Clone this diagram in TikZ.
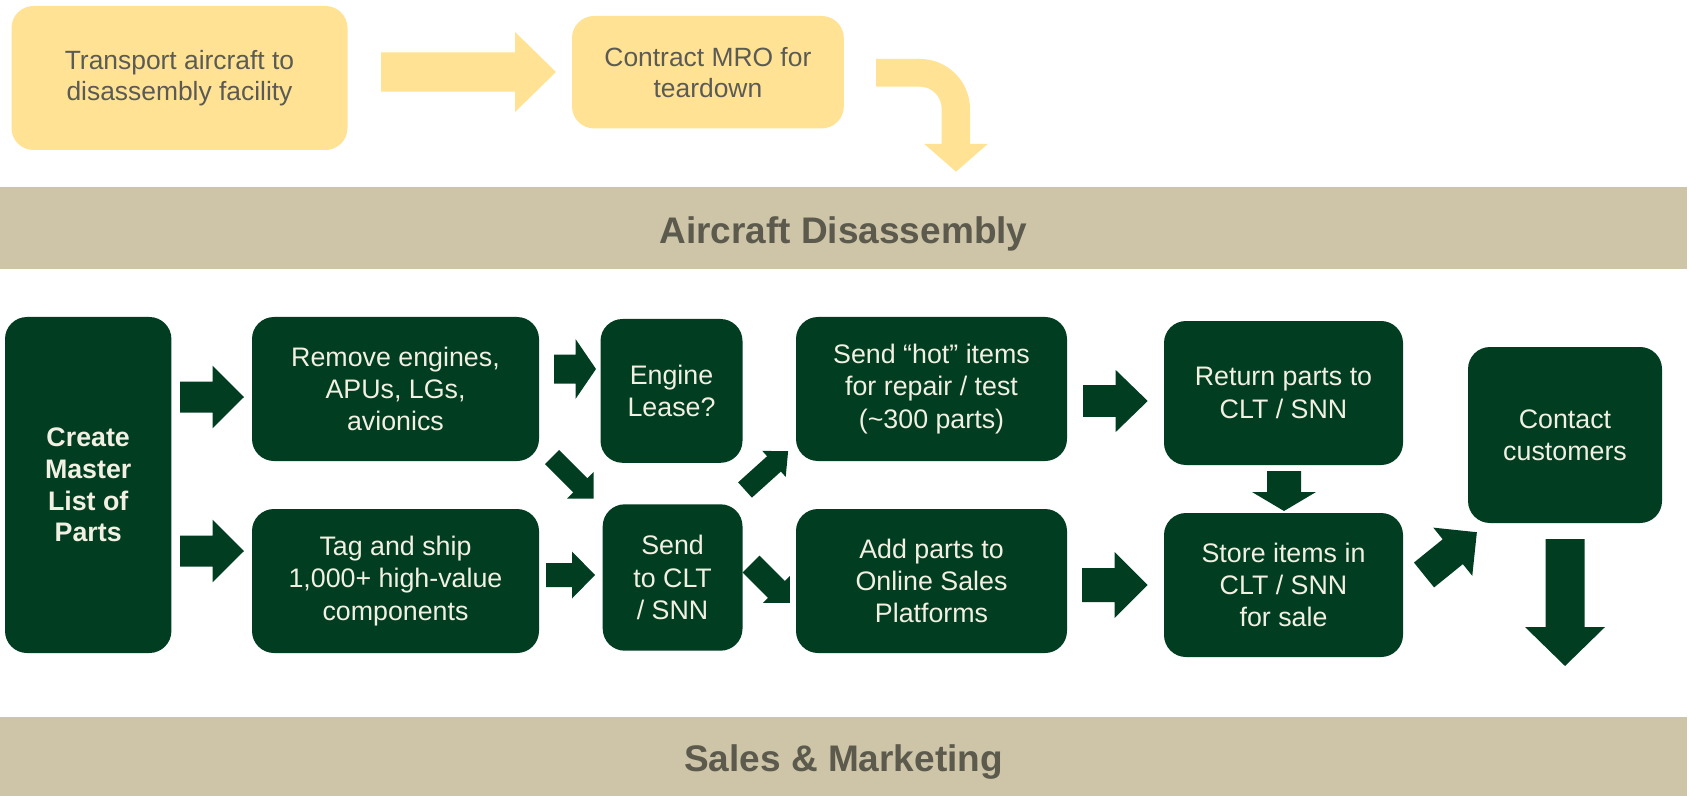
\documentclass[tikz,border=0pt]{standalone}
\usepackage{fontspec}
\setmainfont{Liberation Sans}
\definecolor{ygold}{HTML}{FFE293}
\definecolor{ytext}{HTML}{5B5B55}
\definecolor{dgreen}{HTML}{013D21}
\definecolor{gtext}{HTML}{F2F0E2}
\definecolor{bandc}{HTML}{CEC5A8}
\definecolor{btext}{HTML}{5C5A4C}
\newcommand\blockarrow[7]{% color, tail, angle, length, shaft half, head half, head length
  \fill[#1, shift={(#2)}, rotate=#3] (0,#5) -- ({#4-#7},#5) -- ({#4-#7},#6) -- (#4,0) -- ({#4-#7},-#6) -- ({#4-#7},-#5) -- (0,-#5) -- cycle;}
\begin{document}
\begin{tikzpicture}[x=0.5pt,y=-0.5pt,
  ybox/.style={fill=ygold, rounded corners=11pt, text=ytext, align=center, inner sep=0pt,
    font=\fontsize{13.2}{15.6}\selectfont},
  gbox/.style={fill=dgreen, rounded corners=11pt, text=gtext, align=center, inner sep=0pt,
    font=\fontsize{13.4}{16.2}\selectfont},
  bandbox/.style={fill=bandc, inner sep=0pt, minimum width=843.5pt},
  bandtext/.style={text=btext, inner sep=0pt, font=\fontsize{18.5}{22}\selectfont\bfseries}]
\useasboundingbox (0,0) rectangle (1689,796);

% bands
\node[bandbox, minimum height=41pt] (band1) at (843.5,228.3) {};
\node[bandtext, anchor=base] (band1t) at (843.5,243.3) {Aircraft Disassembly};
\node[bandbox, minimum height=40pt] (band2) at (843.5,756.7) {};
\node[bandtext, anchor=base] (band2t) at (843.5,771.7) {Sales \& Marketing};

% yellow boxes
\node[ybox, minimum width=168pt, minimum height=72pt] (y1) at (179.5,78) {Transport aircraft to\\disassembly facility};
\node[ybox, minimum width=135.9pt, minimum height=56.2pt] (y2) at (707.9,72.2) {Contract MRO for\\teardown};

% green boxes
\node[gbox, minimum width=83.2pt, minimum height=168pt, font=\fontsize{13.4}{15.8}\selectfont\bfseries] (create) at (88.2,485) {Create\\Master\\List of\\Parts};
\node[gbox, minimum width=143.5pt, minimum height=72pt] (remove) at (395.5,389) {Remove engines,\\APUs, LGs,\\avionics};
\node[gbox, minimum width=143.5pt, minimum height=72pt] (tag) at (395.5,581) {Tag and ship\\1,000+ high-value\\components};
\node[gbox, minimum width=71pt, minimum height=71.9pt] (engine) at (671.5,390.9) {Engine\\Lease?};
\node[gbox, minimum width=69.9pt, minimum height=73.2pt] (send) at (672.6,577.5) {Send\\to CLT\\/ SNN};
\node[gbox, minimum width=135.5pt, minimum height=72pt] (hot) at (931.5,389) {Send “hot” items\\for repair / test\\(\textasciitilde300 parts)};
\node[gbox, minimum width=135.5pt, minimum height=72pt] (add) at (931.5,581) {Add parts to\\Online Sales\\Platforms};
\node[gbox, minimum width=119.5pt, minimum height=72pt] (ret) at (1283.5,393) {Return parts to\\CLT / SNN};
\node[gbox, minimum width=119.5pt, minimum height=72pt] (store) at (1283.5,585) {Store items in\\CLT / SNN\\for sale};
\node[gbox, minimum width=97pt, minimum height=88pt] (contact) at (1565,435) {Contact\\customers};

% arrow tails
\coordinate (ay) at (381,72);
\coordinate (a1) at (180,397);
\coordinate (a2) at (180,551);
\coordinate (a3) at (554,369);
\coordinate (a4) at (546,575);
\coordinate (a5) at (552,457);
\coordinate (a6) at (745,490);
\coordinate (a7) at (751,564);
\coordinate (a8) at (1083,401);
\coordinate (a9) at (1082,585);
\coordinate (a10) at (1284,471);
\coordinate (a11) at (1424,575);
\coordinate (a12) at (1565,539);

% yellow arrows
\blockarrow{ygold}{ay}{0}{175}{19.7}{40}{41}
\fill[ygold] (876,59) -- (920,59) .. controls (947.6,59) and (970,81.4) .. (970,109)
  -- (970,144) -- (987.7,144) -- (956,171.7) -- (924.3,144) -- (941.7,144) -- (941.7,109)
  .. controls (941.7,96.7) and (932,86.7) .. (920,86.7) -- (876,86.7) -- cycle;

% green arrows
\blockarrow{dgreen}{a1}{0}{64}{15.5}{31.3}{31.5}
\blockarrow{dgreen}{a2}{0}{64}{15.5}{31.3}{31.5}
\blockarrow{dgreen}{a3}{0}{42}{14.5}{30}{20.5}
\blockarrow{dgreen}{a4}{0}{49}{12}{23.5}{23}
\blockarrow{dgreen}{a5}{-45}{59}{10}{19}{19}
\blockarrow{dgreen}{a6}{42}{58}{10.3}{17.5}{19}
\blockarrow{dgreen}{a7}{-45}{55}{12}{19}{19}
\blockarrow{dgreen}{a8}{0}{64.7}{15.8}{31}{32}
\blockarrow{dgreen}{a9}{0}{65.7}{17}{33}{33}
\blockarrow{dgreen}{a10}{-90}{40}{17}{32}{19}
\blockarrow{dgreen}{a11}{39}{68}{16}{31}{31}
\blockarrow{dgreen}{a12}{-90}{127}{19.5}{40}{39}
\end{tikzpicture}
\end{document}
